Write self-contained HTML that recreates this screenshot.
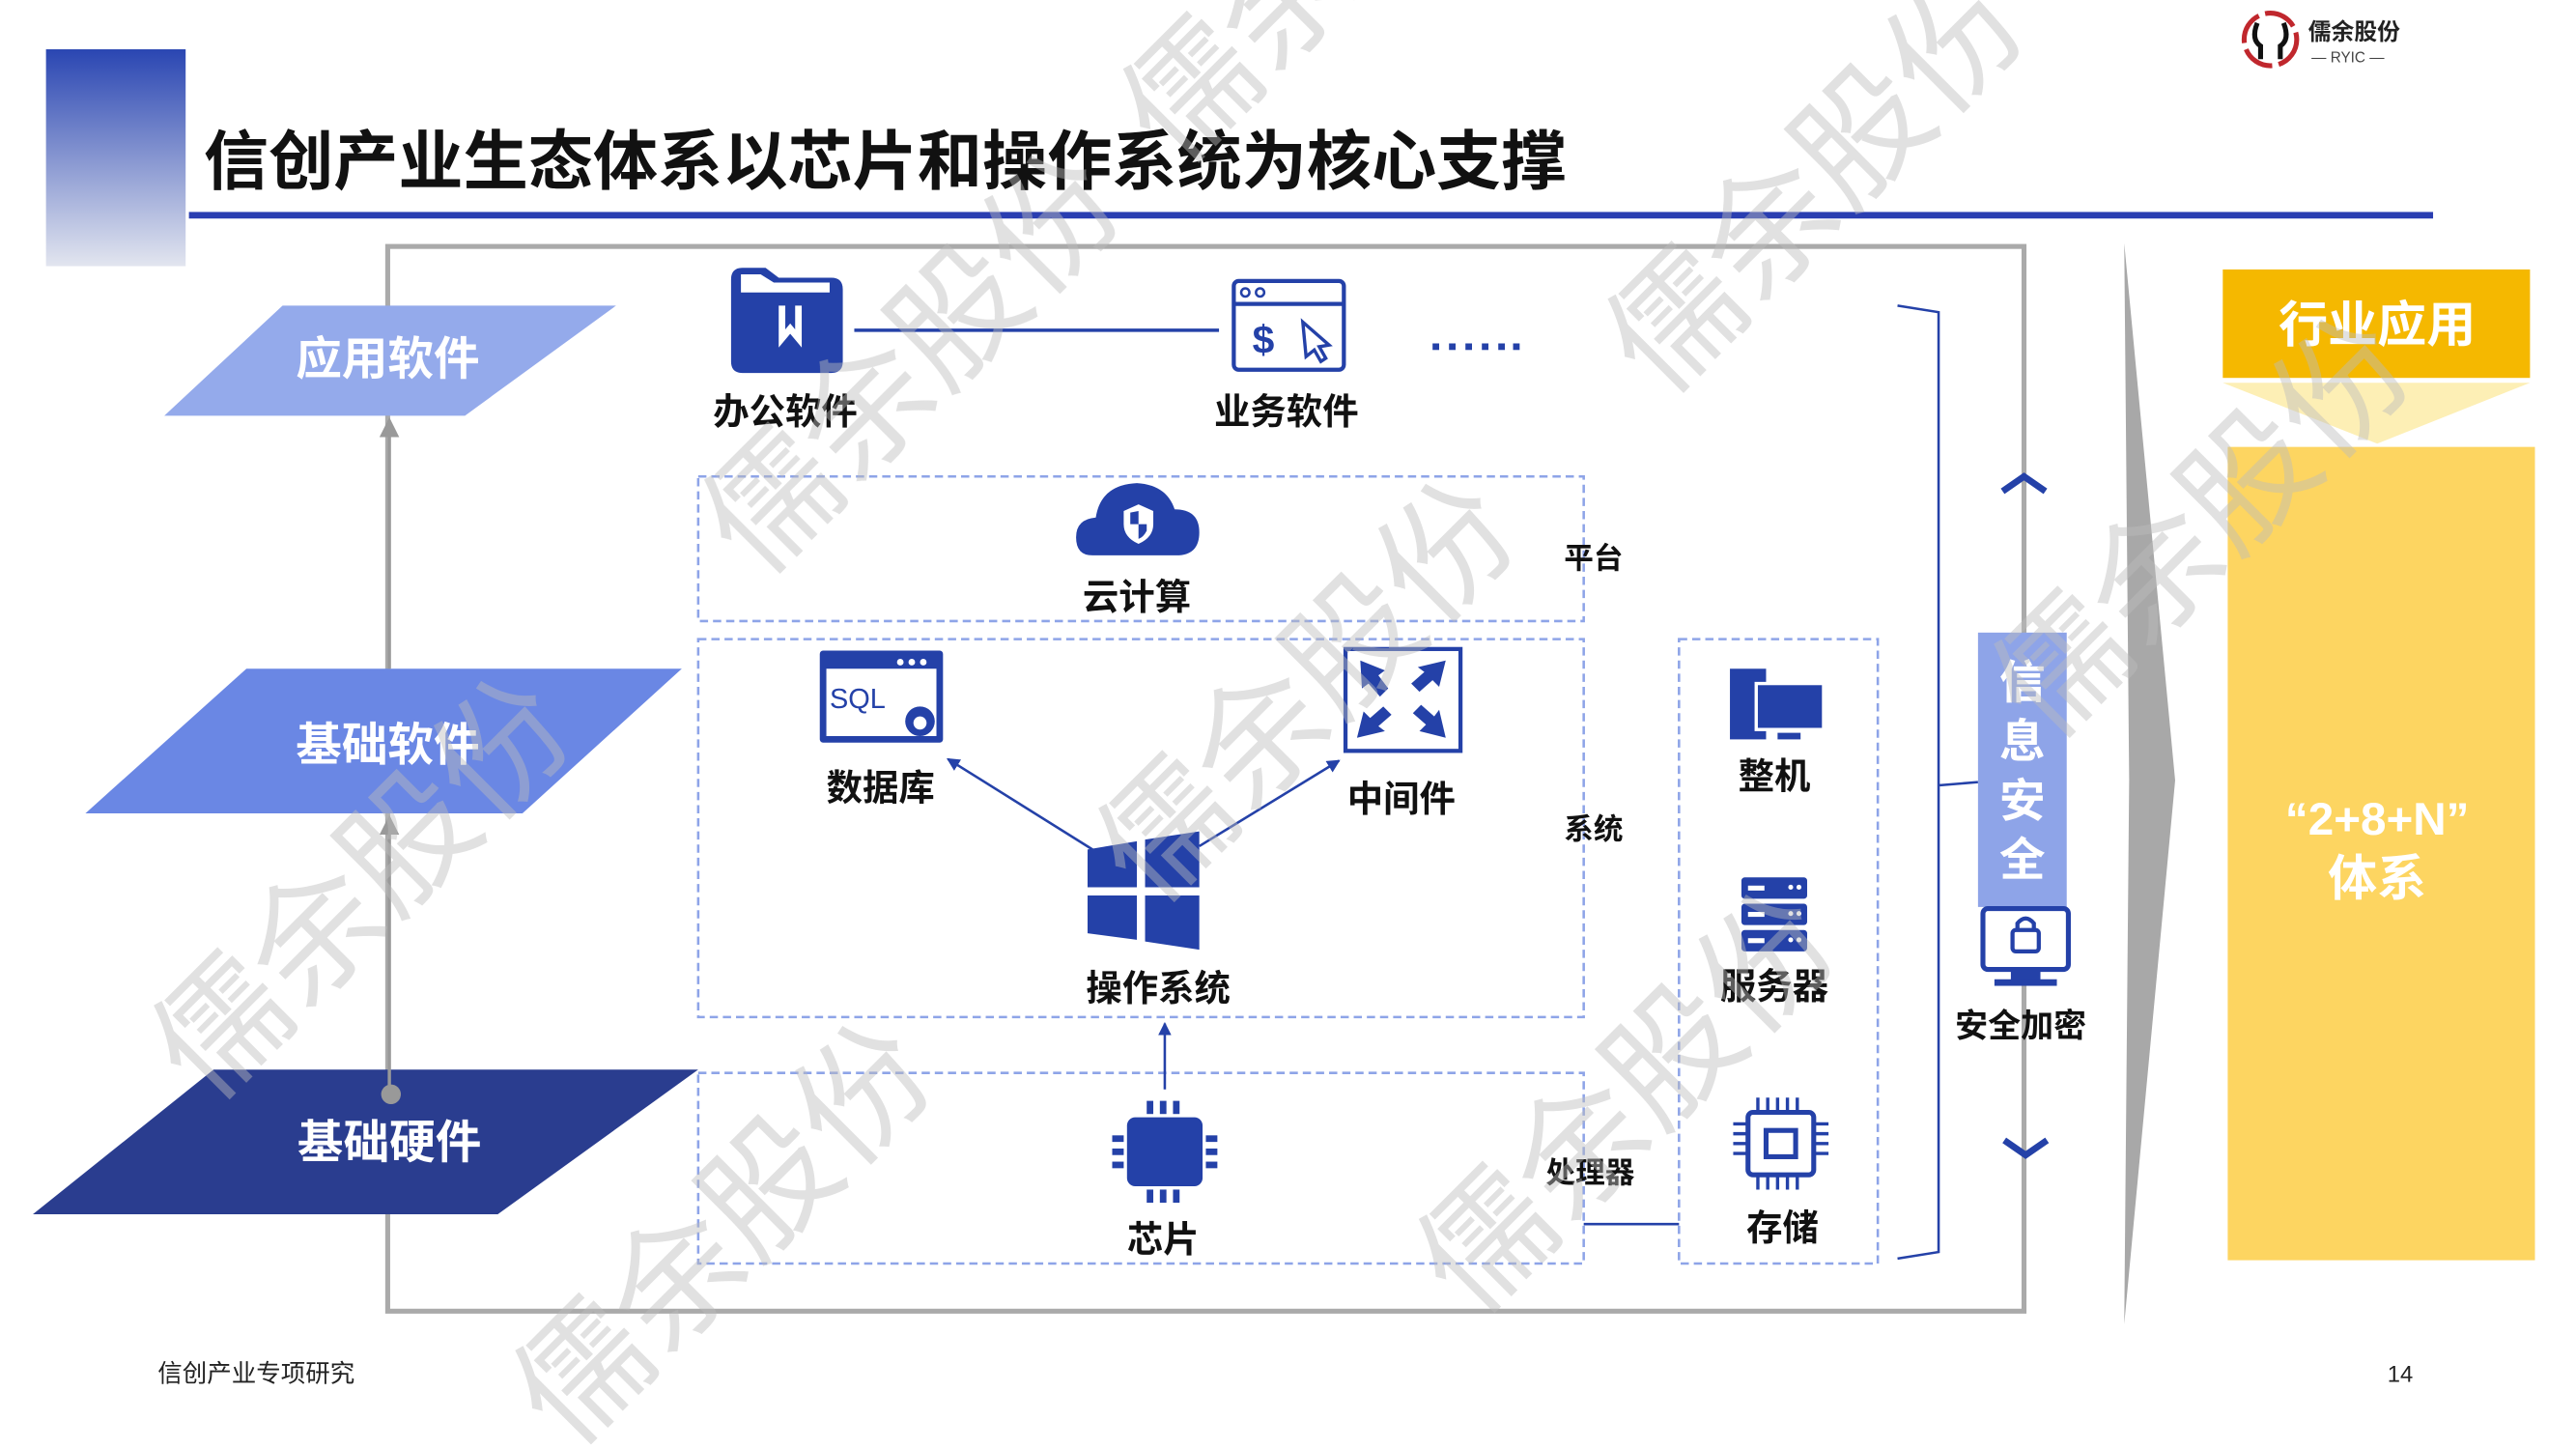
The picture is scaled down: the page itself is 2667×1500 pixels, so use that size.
<!DOCTYPE html>
<html><head><meta charset="utf-8"><style>
html,body{margin:0;padding:0;background:#fff;overflow:hidden}
#w{width:2667px;height:1500px;position:relative;overflow:hidden}
#c{width:1568px;height:882px;position:absolute;left:0;top:0;transform:scale(1.7009);transform-origin:0 0}
svg text{font-family:"Liberation Sans","Noto Sans CJK SC",sans-serif}
</style></head><body><div id="w"><div id="c">
<svg width="1568" height="882" viewBox="0 0 1568 882" xmlns="http://www.w3.org/2000/svg">
<defs>
<linearGradient id="g1" x1="0" y1="0" x2="0" y2="1"><stop offset="0" stop-color="#2a46b2"/><stop offset="1" stop-color="#e2e5ef"/></linearGradient>
<marker id="ab" markerWidth="8" markerHeight="8" refX="7" refY="4" orient="auto" markerUnits="userSpaceOnUse"><path d="M0,0 L8,4 L0,8 z" fill="#2441a8"/></marker>
<marker id="ag" markerWidth="12" markerHeight="12" refX="10" refY="6" orient="auto" markerUnits="userSpaceOnUse"><path d="M0,0 L12,6 L0,12 z" fill="#999"/></marker>
</defs>
<rect x="28" y="30" width="85" height="132" fill="url(#g1)"/>
<text x="124" y="112" font-size="39.5" font-weight="bold" fill="#111">信创产业生态体系以芯片和操作系统为核心支撑</text>
<rect x="115" y="129" width="1366" height="4" fill="#2a3eb1"/>
<!-- logo -->
<circle cx="1382" cy="24" r="16" fill="none" stroke="#c0272d" stroke-width="3" stroke-dasharray="20 4"/>
<path d="M1374,14 q-4,10 2,14 v8 M1390,14 q4,10 -2,14 v8" stroke="#111" stroke-width="3" fill="none"/>
<text x="1405" y="24" font-size="14" font-weight="bold" fill="#222">儒余股份</text>
<text x="1407" y="38" font-size="9" fill="#444">— RYIC —</text>
<!-- outer rect -->
<rect x="236" y="150" width="996" height="648" fill="none" stroke="#aaa" stroke-width="3"/>
<!-- parallelograms -->
<polygon points="100,253 172,186 375,186 283,253" fill="#94aaeb"/>
<text x="236" y="228" font-size="28" font-weight="bold" fill="#fff" text-anchor="middle">应用软件</text>
<polygon points="52,495 150,407 415,407 318,495" fill="#6a87e4"/>
<text x="236" y="463" font-size="28" font-weight="bold" fill="#fff" text-anchor="middle">基础软件</text>
<polygon points="20,739 130,651 425,651 303,739" fill="#2a3d8f"/>
<text x="237" y="705" font-size="28" font-weight="bold" fill="#fff" text-anchor="middle">基础硬件</text>
<line x1="237" y1="407" x2="237" y2="256" stroke="#999" stroke-width="2" marker-end="url(#ag)"/>
<line x1="237" y1="666" x2="237" y2="498" stroke="#999" stroke-width="2" marker-end="url(#ag)"/>
<circle cx="238" cy="666" r="6" fill="#999"/>
<!-- top apps -->
<path d="M445,170 q0,-7 7,-7 h14 l8,6 h32 q7,0 7,7 v44 q0,7 -7,7 h-54 q-7,0 -7,-7 z" fill="#2441a8"/>
<path d="M451,178 h54 v-6 h-34 l-8,-5 h-12 z" fill="#fff"/>
<path d="M476,186 v20 l5,-6 l5,6 v-20" stroke="#fff" stroke-width="4" fill="none"/>
<text x="478" y="258" font-size="22" font-weight="bold" fill="#111" text-anchor="middle">办公软件</text>
<line x1="520" y1="201" x2="742" y2="201" stroke="#2441a8" stroke-width="2"/>
<rect x="751" y="171" width="67" height="54" rx="3" fill="#fff" stroke="#2441a8" stroke-width="2.5"/>
<line x1="751" y1="185" x2="818" y2="185" stroke="#2441a8" stroke-width="2.5"/>
<circle cx="758" cy="178" r="2.5" fill="none" stroke="#2441a8" stroke-width="1.5"/><circle cx="767" cy="178" r="2.5" fill="none" stroke="#2441a8" stroke-width="1.5"/>
<text x="769" y="215" font-size="24" font-weight="bold" fill="#2441a8" text-anchor="middle">$</text>
<path d="M793,196 l16,14 l-6,1 l4,7 l-3,2 l-4,-7 l-5,4 z" fill="none" stroke="#2441a8" stroke-width="2"/>
<text x="783" y="258" font-size="22" font-weight="bold" fill="#111" text-anchor="middle">业务软件</text>
<g fill="#2441a8"><rect x="872" y="209" width="4" height="4"/><rect x="882" y="209" width="4" height="4"/><rect x="892" y="209" width="4" height="4"/><rect x="902" y="209" width="4" height="4"/><rect x="912" y="209" width="4" height="4"/><rect x="921" y="209" width="4" height="4"/></g>
<!-- dashed boxes -->
<g fill="none" stroke="#8ea4e8" stroke-width="1.5" stroke-dasharray="5 3">
<rect x="425" y="290" width="539" height="88"/>
<rect x="425" y="389" width="539" height="230"/>
<rect x="425" y="653" width="539" height="116"/>
<rect x="1022" y="389" width="121" height="380"/>
</g>
<!-- cloud -->
<path d="M665,338 q-10,0 -10,-11 q0,-11 12,-12 q3,-20 25,-21 q18,1 23,16 q15,0 15,14 q0,14 -14,14 z" fill="#2441a8"/>
<path d="M684,311 l9,-4 l9,4 v8 q0,8 -9,12 q-9,-4 -9,-12 z" fill="#fff"/>
<path d="M693,311 v8 h-5 v-7 z M693,319 h5 v4 q-2,4 -5,5 z" fill="#2441a8"/>
<text x="692" y="371" font-size="22" font-weight="bold" fill="#111" text-anchor="middle">云计算</text>
<text x="970" y="346" font-size="18" font-weight="bold" fill="#111" text-anchor="middle">平台</text>
<!-- SQL -->
<rect x="499" y="396" width="75" height="56" rx="2" fill="#2441a8"/>
<rect x="503" y="407" width="67" height="41" fill="#fff"/>
<circle cx="548" cy="403" r="2" fill="#fff"/><circle cx="555" cy="403" r="2" fill="#fff"/><circle cx="562" cy="403" r="2" fill="#fff"/>
<text x="505" y="431" font-size="17" fill="#2441a8">SQL</text>
<circle cx="560" cy="439" r="9" fill="#2441a8"/><circle cx="560" cy="440" r="4" fill="#fff"/>
<text x="536" y="487" font-size="22" font-weight="bold" fill="#111" text-anchor="middle">数据库</text>
<!-- middleware -->
<rect x="819" y="395" width="70" height="62" fill="#fff" stroke="#2441a8" stroke-width="2.5"/>
<g fill="#2441a8">
<path d="M828,402 l15,6 l-4,3 l6,8 l-5,5 l-7,-8 l-4,3 z"/>
<path d="M880,402 l-4,16 l-4,-4 l-8,7 l-5,-5 l8,-7 l-4,-3 z"/>
<path d="M826,449 l4,-16 l4,4 l8,-7 l5,5 l-8,7 l4,3 z"/>
<path d="M880,449 l-16,-4 l4,-4 l-8,-7 l5,-5 l8,7 l3,-4 z"/>
</g>
<text x="853" y="494" font-size="22" font-weight="bold" fill="#111" text-anchor="middle">中间件</text>
<!-- windows -->
<g fill="#2441a8">
<polygon points="662,517 692,512 692,540 662,540"/>
<polygon points="697,511 730,506 730,540 697,540"/>
<polygon points="662,545 692,545 692,572 662,568"/>
<polygon points="697,545 730,545 730,578 697,573"/>
</g>
<text x="705" y="609" font-size="22" font-weight="bold" fill="#111" text-anchor="middle">操作系统</text>
<line x1="665" y1="517" x2="577" y2="462" stroke="#2441a8" stroke-width="1.5" marker-end="url(#ab)"/>
<line x1="730" y1="515" x2="815" y2="463" stroke="#2441a8" stroke-width="1.5" marker-end="url(#ab)"/>
<text x="970" y="511" font-size="18" font-weight="bold" fill="#111" text-anchor="middle">系统</text>
<line x1="709" y1="663" x2="709" y2="623" stroke="#2441a8" stroke-width="1.5" marker-end="url(#ab)"/>
<!-- chip -->
<rect x="686" y="680" width="46" height="42" rx="5" fill="#2441a8"/>
<g fill="#2441a8">
<rect x="698" y="670" width="4" height="8"/><rect x="706" y="670" width="4" height="8"/><rect x="714" y="670" width="4" height="8"/>
<rect x="698" y="724" width="4" height="8"/><rect x="706" y="724" width="4" height="8"/><rect x="714" y="724" width="4" height="8"/>
<rect x="677" y="691" width="7" height="4"/><rect x="677" y="699" width="7" height="4"/><rect x="677" y="707" width="7" height="4"/>
<rect x="734" y="691" width="7" height="4"/><rect x="734" y="699" width="7" height="4"/><rect x="734" y="707" width="7" height="4"/>
</g>
<text x="708" y="762" font-size="22" font-weight="bold" fill="#111" text-anchor="middle">芯片</text>
<text x="968" y="720" font-size="18" font-weight="bold" fill="#111" text-anchor="middle">处理器</text>
<line x1="964" y1="745" x2="1022" y2="745" stroke="#2441a8" stroke-width="1.5"/>
<!-- right hardware -->
<rect x="1053" y="407" width="22" height="43" fill="#2441a8"/>
<rect x="1069" y="416" width="41" height="28" fill="#2441a8" stroke="#fff" stroke-width="2"/>
<rect x="1082" y="446" width="14" height="4" fill="#2441a8"/>
<text x="1080" y="480" font-size="22" font-weight="bold" fill="#111" text-anchor="middle">整机</text>
<g fill="#2441a8"><rect x="1060" y="534" width="40" height="13" rx="2"/><rect x="1060" y="550" width="40" height="13" rx="2"/><rect x="1060" y="566" width="40" height="13" rx="2"/></g>
<g fill="#fff"><rect x="1064" y="539" width="10" height="3"/><rect x="1064" y="555" width="10" height="3"/><rect x="1064" y="571" width="10" height="3"/>
<circle cx="1090" cy="540" r="1.5"/><circle cx="1095" cy="540" r="1.5"/><circle cx="1090" cy="556" r="1.5"/><circle cx="1095" cy="556" r="1.5"/><circle cx="1090" cy="572" r="1.5"/><circle cx="1095" cy="572" r="1.5"/></g>
<text x="1080" y="608" font-size="22" font-weight="bold" fill="#111" text-anchor="middle">服务器</text>
<rect x="1064" y="677" width="40" height="38" rx="3" fill="none" stroke="#2441a8" stroke-width="3"/>
<rect x="1075" y="688" width="18" height="16" fill="none" stroke="#2441a8" stroke-width="3"/>
<g stroke="#2441a8" stroke-width="2"><path d="M1070,668v9M1076,668v9M1082,668v9M1088,668v9M1094,668v9M1070,715v9M1076,715v9M1082,715v9M1088,715v9M1094,715v9M1055,684h9M1055,690h9M1055,696h9M1055,702h9M1104,684h9M1104,690h9M1104,696h9M1104,702h9"/></g>
<text x="1085" y="755" font-size="22" font-weight="bold" fill="#111" text-anchor="middle">存储</text>
<!-- bracket -->
<path d="M1155,186 L1180,190 L1180,762 L1155,766 M1180,478 L1204,476" fill="none" stroke="#2441a8" stroke-width="1.5"/>
<path d="M1219,299 l13,-9 l13,9" fill="none" stroke="#2441a8" stroke-width="4"/>
<path d="M1220,694 l13,9 l13,-9" fill="none" stroke="#2441a8" stroke-width="4"/>
<rect x="1204" y="385" width="54" height="167" fill="#8ea4e8"/>
<g font-size="28" font-weight="bold" fill="#fff" text-anchor="middle"><text x="1231" y="425">信</text><text x="1231" y="461">息</text><text x="1231" y="497">安</text><text x="1231" y="533">全</text></g>
<rect x="1207" y="553" width="52" height="37" rx="3" fill="#fff" stroke="#2441a8" stroke-width="3"/>
<rect x="1224" y="590" width="18" height="7" fill="#2441a8"/><rect x="1214" y="596" width="38" height="4" fill="#2441a8"/>
<rect x="1225" y="566" width="16" height="13" rx="2" fill="none" stroke="#2441a8" stroke-width="2.5"/>
<path d="M1228,566 v-4 q5,-6 10,0 v4" fill="none" stroke="#2441a8" stroke-width="2.5"/>
<text x="1230" y="631" font-size="20" font-weight="bold" fill="#111" text-anchor="middle">安全加密</text>
<!-- wedge -->
<polygon points="1293,148 1324,475 1293,806 1296,475" fill="#a8a8a8"/>
<!-- industry -->
<rect x="1353" y="164" width="187" height="66" fill="#f5b800"/>
<text x="1447" y="208" font-size="30" font-weight="bold" fill="#fff" text-anchor="middle">行业应用</text>
<polygon points="1353,233 1540,233 1447,270" fill="#fdefb5"/>
<rect x="1356" y="272" width="187" height="495" fill="#fdd561"/>
<text x="1447" y="508" font-size="28" font-weight="bold" fill="#fff" text-anchor="middle">“2+8+N”</text>
<text x="1447" y="545" font-size="30" font-weight="bold" fill="#fff" text-anchor="middle">体系</text>
<!-- footer -->
<text x="96" y="841" font-size="15" fill="#222">信创产业专项研究</text>
<text x="1461" y="841" font-size="14" fill="#222" text-anchor="middle">14</text>
<!-- watermarks -->
<g font-size="80" fill="#bbb" opacity="0.45" text-anchor="middle">
<text transform="translate(575,240) rotate(-45)">儒余股份</text>
<text transform="translate(1125,130) rotate(-45)">儒余股份</text>
<text transform="translate(815,440) rotate(-45)">儒余股份</text>
<text transform="translate(240,560) rotate(-45)">儒余股份</text>
<text transform="translate(1360,340) rotate(-45)">儒余股份</text>
<text transform="translate(1010,690) rotate(-45)">儒余股份</text>
<text transform="translate(460,770) rotate(-45)">儒余股份</text>
<text transform="translate(830,-10) rotate(-45)">儒余股份</text>
</g>
</svg>
</div></div></body></html>
